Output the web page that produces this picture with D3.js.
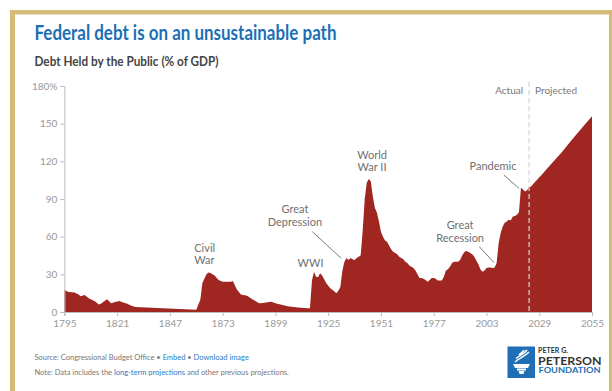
<!DOCTYPE html>
<html>
<head>
<meta charset="utf-8">
<script src="https://cdn.jsdelivr.net/npm/d3@7"></script>
<style>
  body { margin: 0; background: #fff; }
  svg text { font-family: Lato, "Open Sans", sans-serif; }
</style>
</head>
<body>
<svg id="chart" width="612" height="391"></svg>
<script>
// historical + projected debt held by the public, % of GDP
const years = [1795,1797,1800,1802,1803,1805,1807,1810,1812,1813,1815,1816,1817,1818,1820,1822,1824,1826,1828,1830,
  1860,1862,1863,1865,1866,1867,1869,1871,1873,1875,1877,1878,1880,1881,1882,1885,1888,1891,1893,1895,1897,1899,
  1902,1905,1910,1915,1916,1917,1918,1919,1920,1921,1922,1923,1924,1926,1928,1929,1930,1931,1932,1933,1934,1935,
  1936,1937,1938,1939,1940,1941,1942,1943,1944,1945,1946,1947,1948,1949,1950,1951,1952,1953,1954,1955,1956,1957,
  1958,1959,1960,1961,1962,1963,1964,1965,1966,1967,1968,1969,1970,1971,1972,1973,1974,1975,1976,1977,1978,1979,
  1980,1981,1982,1983,1984,1985,1986,1987,1988,1989,1990,1991,1992,1993,1994,1995,1996,1997,1998,1999,2000,2001,
  2002,2003,2004,2005,2006,2007,2008,2009,2010,2011,2012,2013,2014,2015,2016,2017,2018,2019,2020,2021,2022,2023,
  2024,2025,2026,2030,2035,2040,2045,2050,2055];
const debt = [17.5,16,15.5,14,12.5,13.5,11,8.5,6,6.5,9,10.2,8.5,7,8,8.8,7.5,6.5,5,4,
  1.8,10,23,30,31.5,31,29,25.5,24,24,24,24.7,18,16,14,13,9.8,7,7.2,7.7,8.2,7,
  5.8,4.5,3.6,2.9,3,25,32,28,27.6,30.8,29,26,23,19,16.5,15,17,20,33,40,43,41.5,
  43,42,41.5,43,44,45,65,90,103,106,104,92,83,79,72,64,60,57,56,53,50,48,
  47,46,44,43,42,40,39,37,36,35,33,30,27,27,26.5,25.5,24,25.5,27,27,26.5,25,
  25,25,28,33,34,36,39,40,40,40,41.5,45,47.5,48.5,48,47,46,44,41,38,34,32,
  33,35,35.5,35.5,35,35.5,39,55,63,68,71,72,73.5,73,76,76.5,77.5,79.5,99,97.5,96,97,
  99.5,100,102,109,118,127,137,146.5,156];

const xTicks = [1795,1821,1847,1873,1899,1925,1951,1977,2003,2029,2055];
const yTicks = [0,30,60,90,120,150,180];
const splitYear = 2024;

// annotation text anchored at (year, value); leader lines year/value pairs
const labels = [
  {lines: ["Civil", "War"], year: 1859, value: 47.8, anchor: "start"},
  {lines: ["WWI"], year: 1916.3, value: 36.2, anchor: "middle"},
  {lines: ["Great", "Depression"], year: 1908.6, value: 78.8, anchor: "middle"},
  {lines: ["World", "War II"], year: 1946.6, value: 121.9, anchor: "middle"},
  {lines: ["Great", "Recession"], year: 1990, value: 66, anchor: "middle"},
  {lines: ["Pandemic"], year: 2006.2, value: 112.7, anchor: "middle"}
];
const leaders = [
  [[1917.2, 64], [1931.4, 42.8]],
  [[1999.5, 52], [2006.7, 39.3]],
  [[2011.6, 109], [2019, 98.5]]
];

const svg = d3.select("#chart");

// gold frame
svg.append("rect").attr("x", 10).attr("y", 10).attr("width", 640).attr("height", 420).attr("fill", "#d5bb78");
svg.append("rect").attr("x", 15).attr("y", 14.5).attr("width", 594).attr("height", 420).attr("fill", "#fff");

svg.append("text").attr("x", 34.5).attr("y", 40)
  .attr("textLength", 302).attr("lengthAdjust", "spacingAndGlyphs")
  .style("font-size", "20px").style("font-weight", 700).attr("fill", "#1d6fb5")
  .text("Federal debt is on an unsustainable path");
svg.append("text").attr("x", 34.5).attr("y", 66)
  .attr("textLength", 184).attr("lengthAdjust", "spacingAndGlyphs")
  .style("font-size", "13px").style("font-weight", 700).attr("fill", "#444")
  .text("Debt Held by the Public (% of GDP)");

const x = d3.scaleLinear().domain([1795, 2055]).range([64.4, 592]);
const y = d3.scaleLinear().domain([0, 180]).range([312, 86]);

const data = years.map((yr, i) => ({year: yr, value: debt[i]}));

const area = d3.area()
  .x(d => x(d.year))
  .y0(y(0))
  .y1(d => y(d.value));

svg.append("path").datum(data)
  .attr("d", area)
  .attr("fill", "#a02721");

// axes
const yAxis = svg.append("g").attr("transform", `translate(${x(1795)},0)`)
  .call(d3.axisLeft(y).tickValues(yTicks).tickSize(4).tickPadding(3)
    .tickFormat(d => d === 180 ? "180%" : d));
const xAxis = svg.append("g").attr("transform", `translate(0,${y(0)})`)
  .call(d3.axisBottom(x).tickValues(xTicks).tickSize(4).tickPadding(4).tickFormat(d3.format("d")));
[yAxis, xAxis].forEach(g => {
  g.select(".domain").attr("stroke", "#bbb");
  g.selectAll(".tick line").attr("stroke", "#bbb");
  g.selectAll(".tick text").attr("fill", "#999").style("font-size", "10px").style("font-family", "Lato, sans-serif");
});

// actual / projected split
svg.append("line")
  .attr("x1", x(splitYear)).attr("x2", x(splitYear))
  .attr("y1", 82).attr("y2", y(0))
  .attr("stroke", "#d4d4d4").attr("stroke-width", 1.2).attr("stroke-dasharray", "5,3");
svg.append("text").attr("x", x(splitYear) - 6).attr("y", 94).attr("text-anchor", "end")
  .attr("fill", "#777").style("font-size", "10px").text("Actual");
svg.append("text").attr("x", x(splitYear) + 6).attr("y", 94)
  .attr("fill", "#777").style("font-size", "10px").text("Projected");

// annotations
labels.forEach(l => {
  const t = svg.append("text").attr("text-anchor", l.anchor)
    .attr("fill", "#707070").style("font-size", "11px");
  l.lines.forEach((s, i) => {
    t.append("tspan").attr("x", x(l.year)).attr("y", y(l.value) + i * 12.5).text(s);
  });
});
leaders.forEach(p => {
  svg.append("line")
    .attr("x1", x(p[0][0])).attr("y1", y(p[0][1]))
    .attr("x2", x(p[1][0])).attr("y2", y(p[1][1]))
    .attr("stroke", "#555").attr("stroke-width", 0.8);
});

// footer
const src = svg.append("text").attr("x", 34.5).attr("y", 359.5).attr("fill", "#777").style("font-size", "7.5px");
src.append("tspan").text("Source: Congressional Budget Office  \u2022  ");
src.append("tspan").attr("fill", "#2b7bbf").text("Embed");
src.append("tspan").text("  \u2022  ");
src.append("tspan").attr("fill", "#2b7bbf").text("Download image");
const note = svg.append("text").attr("x", 34.5).attr("y", 374.5).attr("fill", "#777").style("font-size", "7.5px");
note.append("tspan").text("Note: Data includes the ");
note.append("tspan").attr("fill", "#2b7bbf").text("long-term projections");
note.append("tspan").text(" and other previous projections.");

// logo
const logo = svg.append("g");
logo.append("rect").attr("x", 507.5).attr("y", 346.5).attr("width", 27.5).attr("height", 31.5).attr("fill", "#1f6fb6");
logo.append("path").attr("fill", "#fff")
  .attr("d", "M513,364 h17 l-2,4 h-13 z M517,368.5 h9 v2 h-9 z M518.5,371 h6 l-1,3 h-4 z");
logo.append("path").attr("fill", "none").attr("stroke", "#fff").attr("stroke-width", 1.6)
  .attr("d", "M515,362 C519,358 524,357 529,352 M516,358.5 C520,355 524,354 527,350 M519,355 C521,353 523,352 524,350");
logo.append("text").attr("x", 538).attr("y", 352.5).attr("fill", "#333")
  .style("font-size", "8px").style("font-weight", 700).attr("textLength", 30).attr("lengthAdjust", "spacingAndGlyphs").text("PETER G.");
logo.append("text").attr("x", 538).attr("y", 365).attr("fill", "#333")
  .style("font-size", "12px").style("font-weight", 700).attr("textLength", 63.5).attr("lengthAdjust", "spacingAndGlyphs").text("PETERSON");
logo.append("text").attr("x", 538.5).attr("y", 373).attr("fill", "#1f6fb6")
  .style("font-size", "6.5px").style("font-weight", 700).attr("textLength", 62).attr("lengthAdjust", "spacingAndGlyphs").text("FOUNDATION");
</script>
</body>
</html>
